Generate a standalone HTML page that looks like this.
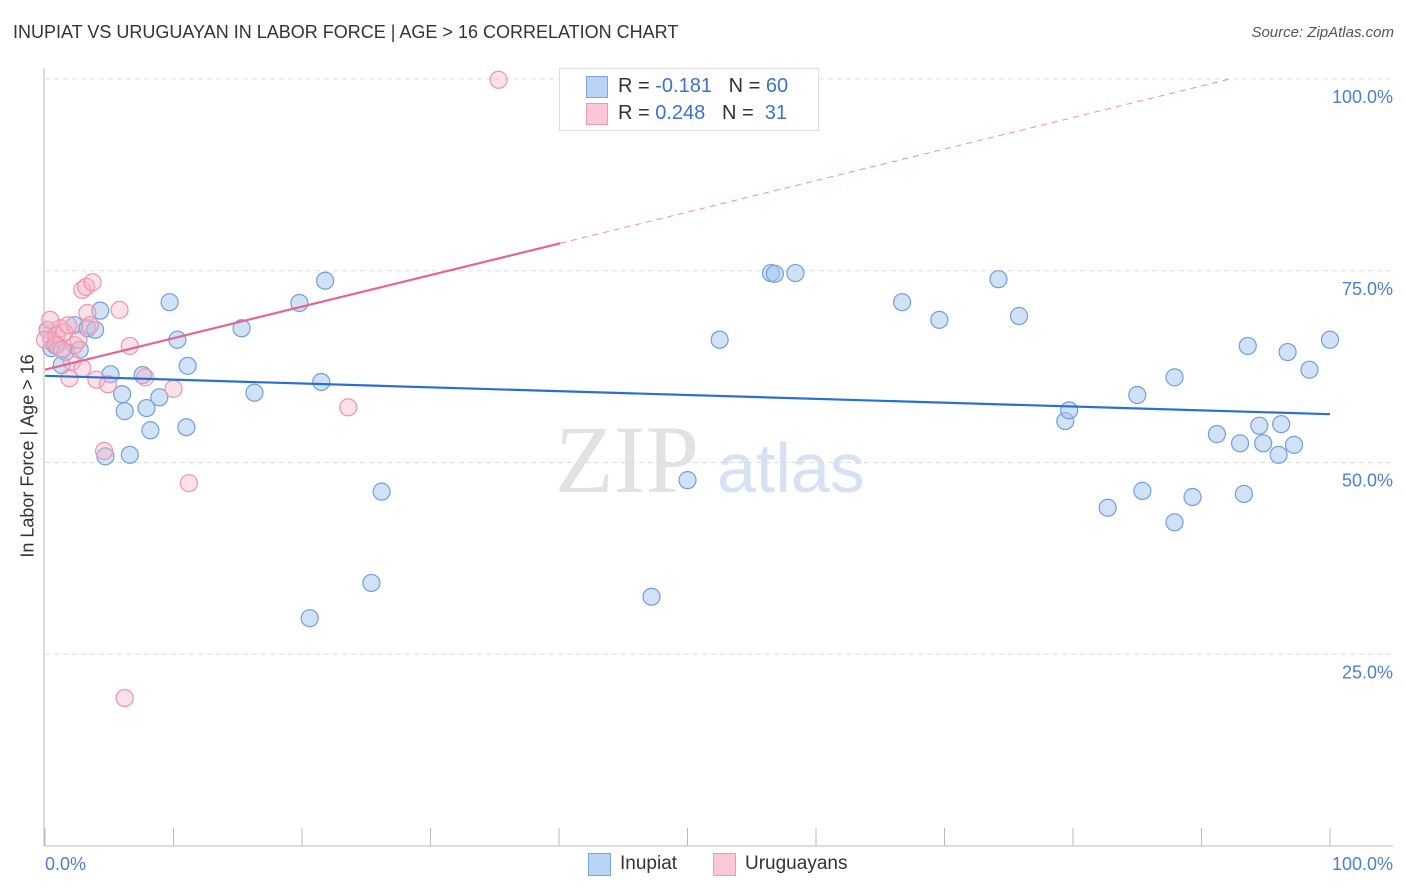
<!DOCTYPE html>
<html><head><meta charset="utf-8"><style>
body{margin:0;background:#fff;font-family:"Liberation Sans",sans-serif;}
#wrap{position:relative;width:1406px;height:892px;overflow:hidden;}
.t{position:absolute;white-space:nowrap;}
</style></head><body><div id="wrap">
<div class="t" style="left:13px;top:22px;font-size:18px;color:#333;">INUPIAT VS URUGUAYAN IN LABOR FORCE | AGE &gt; 16 CORRELATION CHART</div>
<div class="t" style="right:12px;top:24px;font-size:15px;color:#555;font-style:italic;">Source: ZipAtlas.com</div>
<div class="t" style="left:28px;top:456px;font-size:18px;color:#333;transform:translate(-50%,-50%) rotate(-90deg);">In Labor Force | Age &gt; 16</div>
<svg id="svg" width="1406" height="892" style="position:absolute;left:0;top:0">
<text x="555" y="492" font-family="Liberation Serif,serif" font-size="96" fill="#e2e2e2">ZIP</text>
<text x="717" y="492" font-family="Liberation Sans,sans-serif" font-size="70" fill="#d4e2f4">atlas</text>
<g id="grid"></g><g id="marks"></g>
</svg>
<div style="position:absolute;left:559px;top:68px;width:258px;height:61px;border:1px solid #ddd;background:#fff;">
<div style="position:absolute;left:26px;top:7px;width:20px;height:20px;background:#b8d3f5;border:1px solid #7aa5e3;"></div>
<div style="position:absolute;left:26px;top:34px;width:20px;height:20px;background:#fcc8d6;border:1px solid #ef99b3;"></div>
<div class="t" style="left:58px;top:6px;font-size:20px;color:#333;">R = <span style="color:#3a73d0">-0.181</span>&nbsp;&nbsp;&nbsp;N = <span style="color:#3a73d0">60</span></div>
<div class="t" style="left:58px;top:33px;font-size:20px;color:#333;">R = <span style="color:#3a73d0">0.248</span>&nbsp;&nbsp;&nbsp;N = &nbsp;<span style="color:#3a73d0">31</span></div>
</div>
<div style="position:absolute;left:588px;top:853px;width:21px;height:21px;background:#b8d3f5;border:1px solid #7aa5e3;"></div>
<div class="t" style="left:620px;top:853px;font-size:19px;color:#333;">Inupiat</div>
<div style="position:absolute;left:713px;top:853px;width:21px;height:21px;background:#fcc8d6;border:1px solid #ef99b3;"></div>
<div class="t" style="left:745px;top:853px;font-size:19px;color:#333;">Uruguayans</div>
</div>
<script>
const blueX=[0.2,0.5,0.8,1.6,2.3,3.3,3.9,4.3,2.7,1.3,5.1,6.0,6.2,6.6,4.7,7.6,7.9,8.2,8.9,9.7,10.3,11.0,11.1,15.3,16.3,19.8,21.5,21.8,25.4,20.6,26.2,47.2,50.0,52.5,56.5,56.8,58.4,66.7,69.6,74.2,75.8,79.4,79.7,82.7,85.0,85.4,87.9,87.9,89.3,91.2,93.0,93.3,93.6,94.5,94.8,96.2,96.0,96.7,97.2,98.4,100];
const blueY=[67.3,64.9,65.3,64.4,67.9,67.5,67.3,69.8,64.7,62.7,61.5,58.9,56.7,51.0,50.8,61.4,57.1,54.2,58.5,70.9,66.0,54.6,62.6,67.5,59.1,70.8,60.5,73.7,34.3,29.7,46.2,32.5,47.7,66.0,74.7,74.6,74.7,70.9,68.6,73.9,69.1,55.4,56.8,44.1,58.8,46.3,61.1,42.2,45.5,53.7,52.5,45.9,65.2,54.8,52.5,55.0,51.0,64.4,52.3,62.1,66.0];
const pinkX=[0.2,0.5,0.9,1.2,1.5,1.8,1.9,2.1,2.3,2.9,2.9,3.2,3.7,3.3,3.5,4.0,4.9,4.6,5.8,6.6,7.8,10.0,11.2,6.2,23.6,35.3,0.9,1.3,2.6,0,0.4];
const pinkY=[67.3,66.0,66.6,67.5,67.0,67.9,61.0,63.1,65.3,62.3,72.5,72.9,73.5,69.5,67.9,60.8,60.2,51.5,69.9,65.2,61.1,59.6,47.3,19.3,57.2,99.9,65.3,64.7,66.0,66.0,68.6];
const blueTrend=[61.3,56.3];   // y at x=0 and x=100
const pinkTrend=[62.1,0.411];  // intercept, slope
const yTicks=[25,50,75,100];
const yTickLabels=["25.0%","50.0%","75.0%","100.0%"];
const xTicks=[0,10,20,30,40,50,60,70,80,90,100];
const NS="http://www.w3.org/2000/svg";
const sx=v=>45+v*12.85, sy=v=>846-v*7.67;
function mk(tag,attrs,parent){const e=document.createElementNS(NS,tag);for(const k in attrs)e.setAttribute(k,attrs[k]);parent.appendChild(e);return e;}
const grid=document.getElementById('grid'),marks=document.getElementById('marks');
yTicks.forEach((v,i)=>{
 const l=mk('line',{x1:45,x2:1393,y1:sy(v),y2:sy(v),stroke:'#ddd','stroke-dasharray':'5,4'},grid);
 
 
 const t=mk('text',{x:1393,y:sy(v)+24,'text-anchor':'end','font-size':18,fill:'#4a7fd4','font-family':'Liberation Sans,sans-serif'},grid);
 t.textContent=yTickLabels[i];
 
 
});
const ya=mk('line',{x1:44,x2:44,y1:68,y2:846,stroke:'#bbb'},grid);


const xa=mk('line',{x1:44,x2:1393,y1:846,y2:846,stroke:'#bbb'},grid);


xTicks.forEach(v=>{const l=mk('line',{x1:sx(v),x2:sx(v),y1:828,y2:846,stroke:'#bbb'},grid);
 
 });
const x0=mk('text',{x:45,y:870,'font-size':18,fill:'#4a7fd4','font-family':'Liberation Sans,sans-serif'},grid);x0.textContent='0.0%';


const x1=mk('text',{x:1393,y:870,'text-anchor':'end','font-size':18,fill:'#4a7fd4','font-family':'Liberation Sans,sans-serif'},grid);x1.textContent='100.0%';


blueX.forEach((x,i)=>{const c=mk('circle',{cx:sx(x),cy:sy(blueY[i]),r:8.5,fill:'rgba(164,196,238,0.5)',stroke:'#6f9fe0','stroke-width':1.2},marks);
 
 });
pinkX.forEach((x,i)=>{const c=mk('circle',{cx:sx(x),cy:sy(pinkY[i]),r:8.5,fill:'rgba(248,180,198,0.4)',stroke:'#ee94ae','stroke-width':1.2},marks);
 
 });
const bl=mk('line',{x1:sx(0),y1:sy(blueTrend[0]),x2:sx(100),y2:sy(blueTrend[1]),stroke:'#2a6fd6','stroke-width':2.2},marks);


const pEnd=40.1, pMax=(100-pinkTrend[0])/pinkTrend[1];
const pl=mk('line',{x1:sx(0),y1:sy(pinkTrend[0]),x2:sx(pEnd),y2:sy(pinkTrend[0]+pinkTrend[1]*pEnd),stroke:'#e8648e','stroke-width':2.2},marks);


const pd=mk('line',{x1:sx(pEnd),y1:sy(pinkTrend[0]+pinkTrend[1]*pEnd),x2:sx(pMax),y2:sy(100),stroke:'#eb8eaa','stroke-width':1,'stroke-dasharray':'6,5'},marks);


</script></body></html>
